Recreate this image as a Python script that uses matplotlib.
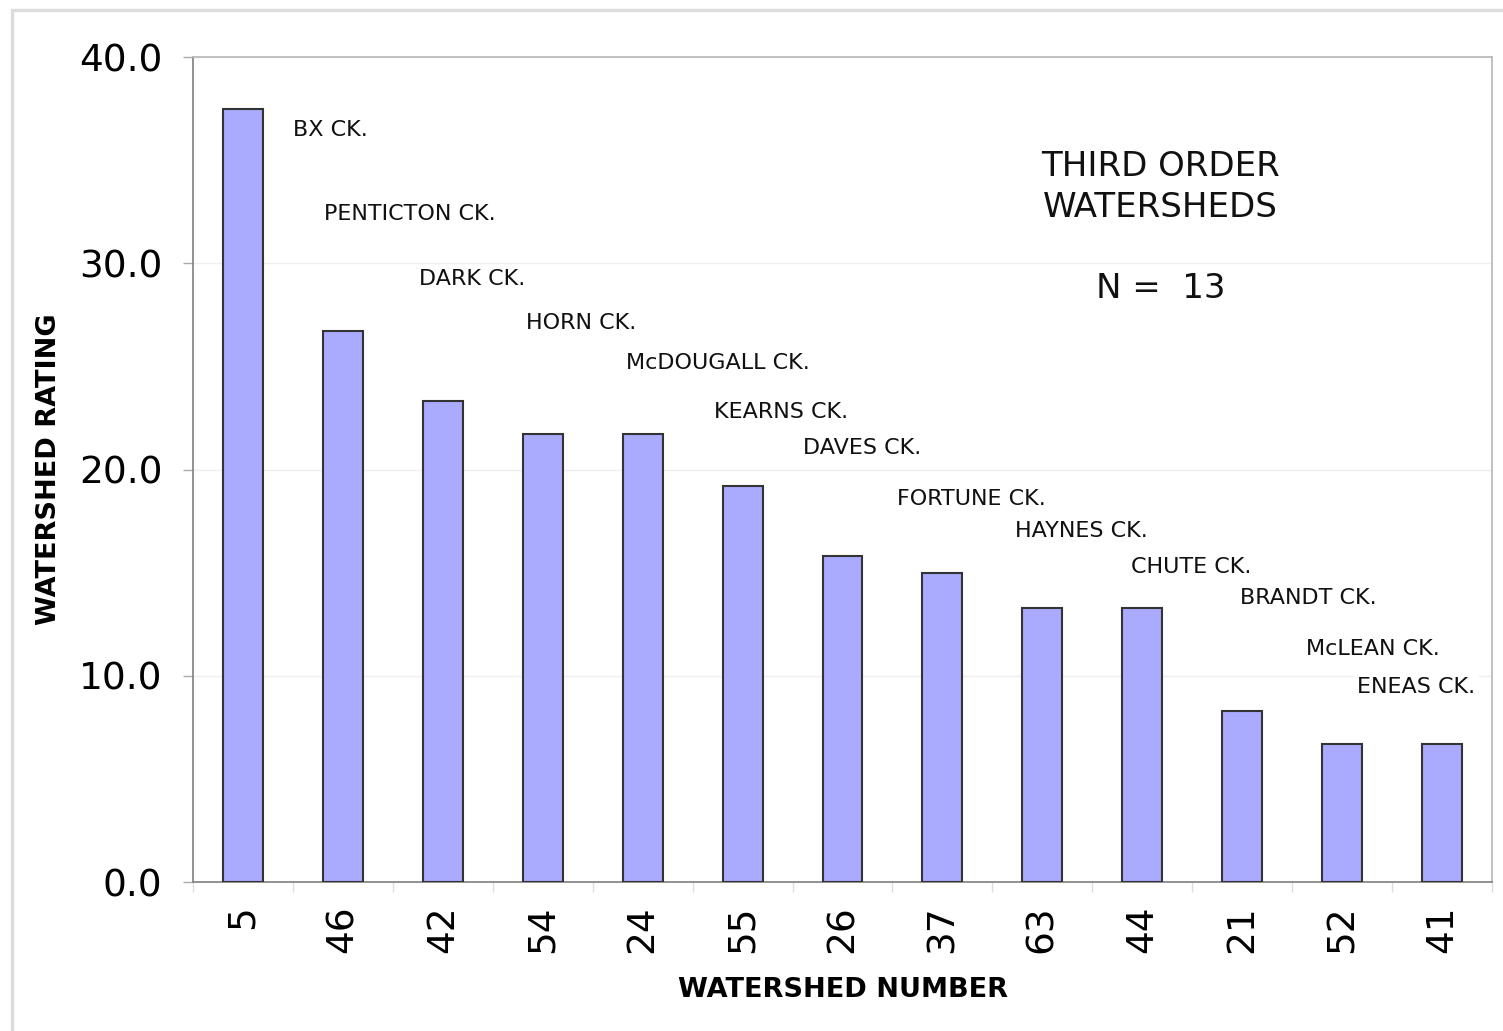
import numpy as np
import matplotlib
matplotlib.use("Agg")
from matplotlib import pyplot as plt
from matplotlib.patches import Rectangle

watershed_numbers = ['5', '46', '42', '54', '24', '55', '26', '37', '63', '44', '21', '52', '41']
ratings = [37.5, 26.7, 23.3, 21.7, 21.7, 19.2, 15.8, 15.0, 13.3, 13.3, 8.3, 6.7, 6.7]
creek_names = ['BX CK.', 'PENTICTON CK.', 'DARK CK.', 'HORN CK.', 'McDOUGALL CK.', 'KEARNS CK.',
               'DAVES CK.', 'FORTUNE CK.', 'HAYNES CK.', 'CHUTE CK.', 'BRANDT CK.', 'McLEAN CK.', 'ENEAS CK.']
# label anchor positions (data coords, left edge / vertical centre)
name_x = [0.50, 0.81, 1.76, 2.83, 3.83, 4.71, 5.60, 6.55, 7.73, 8.89, 9.98, 10.64, 11.15]
name_y = [36.46, 32.39, 29.24, 27.10, 25.16, 22.79, 21.04, 18.57, 17.02, 15.27, 13.77, 11.30, 9.45]

plt.rcParams['font.family'] = ['DejaVu Sans']

fig = plt.figure(figsize=(15.03, 10.31), dpi=100)
fig.patches.append(Rectangle((0.008, -0.05), 1.2, 1.04, transform=fig.transFigure,
                             fill=False, edgecolor='#dddddd', linewidth=2.5, zorder=0))
ax = fig.add_axes([0.1284, 0.1445, 0.8643, 0.8002])

x = np.arange(len(ratings))
ax.bar(x, ratings, width=0.4, color='#aaaaff', edgecolor='#333333', linewidth=1.5, zorder=3)

ax.set_xlim(-0.5, len(ratings) - 0.5)
ax.set_ylim(0, 40)
ax.set_yticks([0, 10, 20, 30, 40])
ax.set_yticklabels(['%.1f' % v for v in [0, 10, 20, 30, 40]], fontsize=27)
ax.yaxis.grid(True, color='#efefef', linewidth=1.0, zorder=0)
ax.set_axisbelow(True)

ax.set_xticks(x)
ax.set_xticklabels(watershed_numbers, rotation=90, fontsize=27)
ax.tick_params(axis='x', length=0, pad=17)
ax.set_xticks(np.arange(-0.5, len(ratings), 1.0), minor=True)
ax.tick_params(axis='x', which='minor', length=7, color='#dddddd', width=1.0)
ax.tick_params(axis='y', length=7, color='#aaaaaa', width=1.0, pad=15)

for side in ['top', 'right']:
    ax.spines[side].set_color('#bbbbbb')
    ax.spines[side].set_linewidth(1.3)
for side in ['left', 'bottom']:
    ax.spines[side].set_color('#888888')
    ax.spines[side].set_linewidth(1.3)

ax.set_xlabel('WATERSHED NUMBER', fontsize=19.5, fontweight='bold', labelpad=17)
ax.set_ylabel('WATERSHED RATING', fontsize=19.5, fontweight='bold')
ax.yaxis.set_label_coords(-0.101, 0.5)

for nm, nx, ny in zip(creek_names, name_x, name_y):
    ax.text(nx, ny, nm, fontsize=16, ha='left', va='center', color='#111111', zorder=4,
            bbox=dict(facecolor='white', edgecolor='none', pad=3))

ax.text(0.745, 0.842, 'THIRD ORDER\nWATERSHEDS', transform=ax.transAxes, ha='center', va='center',
        fontsize=24.5, linespacing=1.3, color='#111111')
ax.text(0.745, 0.719, 'N =  13', transform=ax.transAxes, ha='center', va='center',
        fontsize=24.5, color='#111111')

fig.savefig('out.png', dpi=100)
